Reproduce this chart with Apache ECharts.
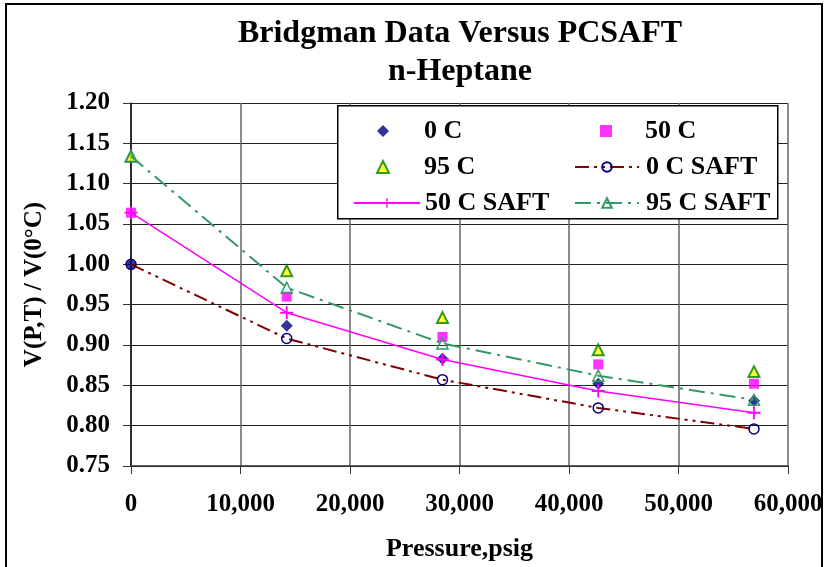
<!DOCTYPE html>
<html>
<head>
<meta charset="utf-8">
<script src="https://cdn.jsdelivr.net/npm/echarts@6/dist/echarts.min.js"></script>
<style>
  html, body { margin: 0; padding: 0; background: #fff; }
  #chart { position: absolute; left: 0; top: 0; width: 827px; height: 567px; }
  #frame { position: absolute; left: 5px; top: 3px; width: 814px; height: 620px;
           border: 2px solid #000; pointer-events: none; }
</style>
</head>
<body>
<div id="chart"></div>
<div id="frame"></div>
<script>
// pressure, psig (1000 kg/cm2 steps)
const pressure = [0, 14223, 28447, 42670, 56893];
// Bridgman data
const data0C  = [1.000, 0.924, 0.883, 0.852, 0.831];
const data50C = [1.064, 0.960, 0.910, 0.876, 0.852];
const data95C = [1.134, 0.992, 0.934, 0.894, 0.867];
// PC-SAFT
const saft0C  = [1.000, 0.908, 0.857, 0.822, 0.796];
const saft50C = [1.064, 0.940, 0.882, 0.843, 0.816];
const saft95C = [1.134, 0.971, 0.902, 0.862, 0.832];

const font = 'Liberation Serif';
const pair = arr => pressure.map((p, i) => [p, arr[i]]);
const plus = 'path://M4.3,0h1.4v4.3h4.3v1.4h-4.3v4.3h-1.4v-4.3h-4.3v-1.4h4.3z';
const legendText = pad => ({ fontFamily: font, fontWeight: 'bold', fontSize: 26, lineHeight: 26,
                             color: '#000', padding: [0, 0, 0, pad] });
// one legend block per column / icon kind so the markers don't get stretched
const legendBlock = (names, left, top, w, pad) => ({
    z: 5, orient: 'vertical', left: left, top: top,
    itemWidth: w, itemHeight: 12, itemGap: 10,
    data: names, textStyle: legendText(pad)
});

let myChart = echarts.init(document.getElementById('chart'));
myChart.setOption({
    animation: false,
    backgroundColor: '#fff',
    title: {
        text: 'Bridgman Data Versus PCSAFT\nn-Heptane',
        left: 455,
        textAlign: 'center',
        top: 10,
        textStyle: { fontFamily: font, fontWeight: 'bold', fontSize: 32, lineHeight: 38, color: '#000' }
    },
    grid: { left: 131, right: 39, top: 103, bottom: 98 },
    graphic: [{
        type: 'rect', z: 1, left: 337, top: 105,
        shape: { width: 440, height: 113 },
        style: { fill: '#fff', stroke: '#000', lineWidth: 1.5 }
    }],
    legend: [
        legendBlock(['0 C', '95 C'], 371, 113, 12, 30),
        legendBlock(['50 C SAFT'], 348, 185, 66, 0),
        legendBlock(['50 C'], 595, 113, 12, 28),
        legendBlock(['0 C SAFT', '95 C SAFT'], 569, 149, 64, 2)
    ],
    xAxis: {
        type: 'value', min: 0, max: 60000, interval: 10000,
        name: 'Pressure,psig', nameLocation: 'middle', nameGap: 70,
        nameTextStyle: { fontFamily: font, fontWeight: 'bold', fontSize: 26, color: '#000' },
        axisLine: { show: true, lineStyle: { color: '#333', width: 1.5 } },
        axisTick: { show: true, length: 8, lineStyle: { color: '#333' } },
        axisLabel: {
            margin: 26, fontFamily: font, fontWeight: 'bold', fontSize: 25, color: '#000',
            formatter: v => v.toLocaleString('en-US')
        },
        splitLine: { show: true, lineStyle: { color: '#666', width: 1.5 } }
    },
    yAxis: {
        type: 'value', min: 0.75, max: 1.2, interval: 0.05,
        name: 'V(P,T) / V(0°C)', nameLocation: 'middle', nameGap: 84, nameRotate: 90,
        nameTextStyle: { fontFamily: font, fontWeight: 'bold', fontSize: 25, color: '#000' },
        axisLine: { show: true, lineStyle: { color: '#111', width: 1.5 } },
        axisTick: { show: true, length: 8, lineStyle: { color: '#333' } },
        axisLabel: {
            margin: 21, fontFamily: font, fontWeight: 'bold', fontSize: 25, color: '#000',
            formatter: v => v.toFixed(2)
        },
        splitLine: { show: true, lineStyle: { color: '#222', width: 1 } }
    },
    series: [
        {
            name: '0 C', type: 'scatter', data: pair(data0C),
            symbol: 'diamond', symbolSize: 12,
            itemStyle: { color: '#000080' }
        },
        {
            name: '50 C', type: 'scatter', data: pair(data50C),
            symbol: 'rect', symbolSize: 10,
            itemStyle: { color: '#FF00FF' }
        },
        {
            name: '95 C', type: 'scatter', data: pair(data95C),
            symbol: 'triangle', symbolSize: 11,
            itemStyle: { color: '#FFFF00', borderColor: '#008000', borderWidth: 2 }
        },
        {
            name: '0 C SAFT', type: 'line', data: pair(saft0C),
            symbol: 'circle', symbolSize: 10, showAllSymbol: true,
            itemStyle: { color: 'rgba(255,255,255,0)', borderColor: '#000080', borderWidth: 1.5 },
            lineStyle: { color: '#800000', width: 2, type: [14, 5, 3, 5, 3, 5] }
        },
        {
            name: '50 C SAFT', type: 'line', data: pair(saft50C),
            symbol: plus, symbolSize: 13, showAllSymbol: true,
            itemStyle: { color: '#FF00FF' },
            lineStyle: { color: '#FF00FF', width: 1.5 }
        },
        {
            name: '95 C SAFT', type: 'line', data: pair(saft95C),
            symbol: 'triangle', symbolSize: 11, showAllSymbol: true,
            itemStyle: { color: 'rgba(255,255,255,0)', borderColor: '#339966', borderWidth: 1.5 },
            lineStyle: { color: '#339966', width: 2, type: [16, 6, 3, 6] }
        }
    ]
});
</script>
</body>
</html>
